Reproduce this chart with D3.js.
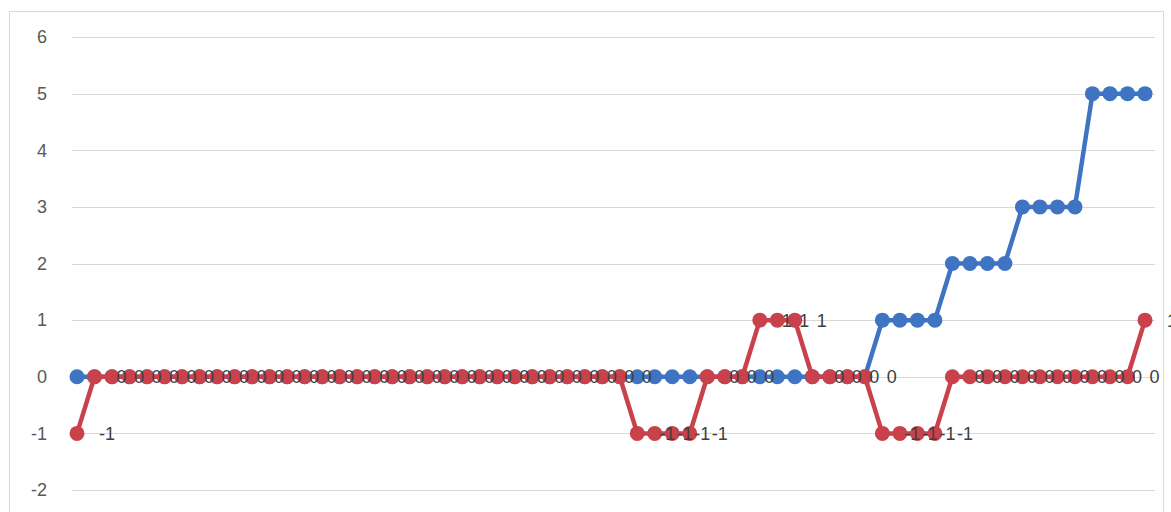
<!DOCTYPE html>
<html>
<head>
<meta charset="utf-8">
<script src="https://cdn.jsdelivr.net/npm/d3@7"></script>
<style>
  body { margin: 0; background: #fff; }
  #chart svg { display: block; }
</style>
</head>
<body>
<div id="chart"></div>
<script>
// series values, one per category (62 points)
const blueValues = [
  0, 0, 0, 0, 0, 0, 0, 0, 0, 0, 0, 0, 0, 0, 0, 0, 0, 0, 0, 0,
  0, 0, 0, 0, 0, 0, 0, 0, 0, 0, 0, 0, 0, 0, 0, 0, 0, 0, 0, 0,
  0, 0, 0, 0, 0, 0, 1, 1, 1, 1, 2, 2, 2, 2, 3, 3, 3, 3, 5, 5,
  5, 5,
];
const redValues = [
  -1, 0, 0, 0, 0, 0, 0, 0, 0, 0, 0, 0, 0, 0, 0, 0, 0, 0, 0, 0,
  0, 0, 0, 0, 0, 0, 0, 0, 0, 0, 0, 0, -1, -1, -1, -1, 0, 0, 0, 1,
  1, 1, 0, 0, 0, 0, -1, -1, -1, -1, 0, 0, 0, 0, 0, 0, 0, 0, 0, 0,
  0, 1,
];
const categories = blueValues.map((d, i) => i + 1);
const yTicks = [-2, -1, 0, 1, 2, 3, 4, 5, 6];

const width = 1171;
const height = 512;
const font = '"Liberation Sans", Arial, sans-serif';

const svg = d3
  .select('#chart')
  .append('svg')
  .attr('width', width)
  .attr('height', height)
  .style('font-family', font);

// chart frame
svg
  .append('rect')
  .attr('x', 9.5)
  .attr('y', 11.5)
  .attr('width', 1154)
  .attr('height', 520)
  .attr('fill', '#fff')
  .attr('stroke', '#d9d9d9');

// scales
const x = d3.scalePoint().domain(categories).range([77, 1145]);
const y = d3.scaleLinear().domain([-2, 6]).range([490, 37]);

// gridlines
svg
  .append('g')
  .selectAll('line')
  .data(yTicks)
  .join('line')
  .attr('x1', 72)
  .attr('x2', 1155)
  .attr('y1', d => Math.round(y(d)) + 0.5)
  .attr('y2', d => Math.round(y(d)) + 0.5)
  .attr('stroke', '#d9d9d9')
  .attr('stroke-width', 1);

// y axis (labels only), plain hyphen for negatives like the original
const yAxis = svg
  .append('g')
  .attr('transform', 'translate(57,0)')
  .call(
    d3
      .axisLeft(y)
      .tickValues(yTicks)
      .tickFormat(d => String(d))
      .tickSize(0)
      .tickPadding(10),
  );
yAxis.select('.domain').remove();
yAxis
  .selectAll('text')
  .attr('fill', '#595959')
  .style('font-family', font)
  .style('font-size', '18px');

const line = d3
  .line()
  .x((d, i) => x(categories[i]))
  .y(d => y(d));

function drawSeries(values, color) {
  svg
    .append('path')
    .datum(values)
    .attr('fill', 'none')
    .attr('stroke', color)
    .attr('stroke-width', 4.5)
    .attr('stroke-linejoin', 'round')
    .attr('d', line);

  svg
    .append('g')
    .selectAll('circle')
    .data(values)
    .join('circle')
    .attr('cx', (d, i) => x(categories[i]))
    .attr('cy', d => y(d))
    .attr('r', 7.5)
    .attr('fill', color);
}

drawSeries(blueValues, '#3f74c2');
drawSeries(redValues, '#c9424b');

// data labels for the red series, drawn on top of everything
svg
  .append('g')
  .selectAll('text')
  .data(redValues)
  .join('text')
  .attr('x', (d, i) => x(categories[i]) + 22)
  .attr('y', d => y(d))
  .attr('dy', '0.36em')
  .attr('fill', '#404040')
  .style('font-size', '18px')
  .text(d => String(d));
</script>
</body>
</html>
